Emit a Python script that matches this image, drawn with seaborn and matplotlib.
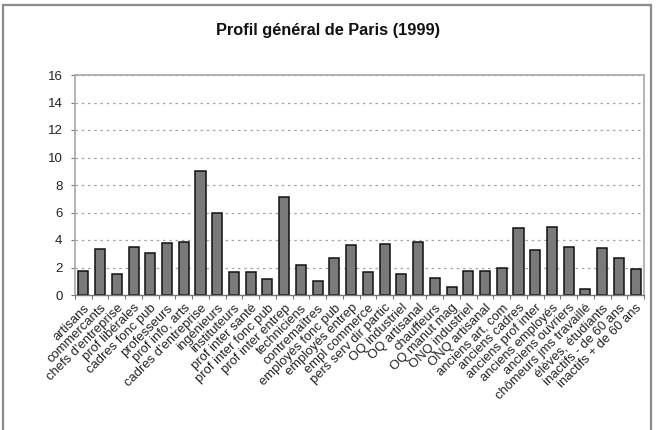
import matplotlib
matplotlib.use("Agg")
import matplotlib.pyplot as plt
from matplotlib.patches import Rectangle
from matplotlib.ticker import FixedLocator
import numpy as np
import pandas as pd
import seaborn as sns

# Catégories socio-professionnelles (Paris, 1999)
categories = [
    "artisans", "commercants", "chefs d'entreprise", "prof libérales",
    "cadres fonc pub", "professeurs", "prof info, arts", "cadres d'entreprise",
    "ingénieurs", "instituteurs", "prof inter santé", "prof inter fonc pub",
    "prof inter entrep", "techniciens", "contremaîtres", "employés fonc pub",
    "employés entrep", "empl commerce", "pers serv dir partic", "OQ industriel",
    "OQ artisanal", "chauffeurs", "OQ manut mag", "ONQ industriel",
    "ONQ artisanal", "anciens art, com", "anciens cadres", "anciens prof inter",
    "anciens employés", "anciens ouvriers", "chômeurs jms travaillé",
    "élèves, étudiants", "inactifs - de 60 ans", "inactifs + de 60 ans",
]
values = [
    1.75, 3.35, 1.5, 3.47, 3.03, 3.76, 3.85, 9.02,
    5.94, 1.67, 1.67, 1.2, 7.1, 2.18, 1.04, 2.69,
    3.66, 1.65, 3.73, 1.53, 3.83, 1.21, 0.56, 1.72,
    1.77, 1.99, 4.9, 3.27, 4.95, 3.47, 0.46, 3.42,
    2.69, 1.87,
]
y_ticks = list(range(0, 17, 2))
title = "Profil général de Paris (1999)"

sns.set_theme(style="white")
plt.rcParams["font.family"] = ["Liberation Sans", "DejaVu Sans"]

W, H = 656, 430
fig = plt.figure(figsize=(W / 100, H / 100), dpi=100)

# Cadre extérieur du graphique
fig.patches.append(Rectangle((3 / W, -0.05), (651 - 3) / W, 1.05 - 5 / H,
                             transform=fig.transFigure, fill=False,
                             edgecolor="#8c8c8c", linewidth=1.6))

ax = fig.add_axes([75 / W, (H - 295) / H, (644 - 75) / W, (295 - 75) / H])

df = pd.DataFrame({"cat": categories, "val": values})
sns.barplot(data=df, x="cat", y="val", color="#7a7a7a", saturation=1,
            edgecolor="#111111", linewidth=1.1, width=0.6, ax=ax)

ax.set_xlim(-0.5, len(categories) - 0.5)
ax.set_ylim(0, 16)
ax.set_yticks(y_ticks)
ax.set_yticklabels([str(t) for t in y_ticks], fontsize=9.5, color="#222222")
ax.set_xlabel("")
ax.set_ylabel("")

ax.set_xticks(range(len(categories)))
ax.set_xticklabels(categories, rotation=45, ha="right",
                   rotation_mode="anchor", fontsize=9.4, color="#222222")
ax.tick_params(axis="x", which="major", length=0, pad=5)
ax.xaxis.set_minor_locator(FixedLocator(np.arange(-0.5, len(categories), 1)))
ax.tick_params(axis="x", which="minor", length=3, color="#777777", width=0.8,
               bottom=True)
ax.tick_params(axis="y", which="major", length=3, color="#777777", width=0.8,
               left=True, pad=6)

ax.yaxis.grid(True, linestyle=(0, (2, 3)), color="#a5a5a5", linewidth=0.9)
ax.set_axisbelow(True)
for side in ["top", "right", "left"]:
    ax.spines[side].set_color("#a8a8a8")
    ax.spines[side].set_linewidth(1.2)
ax.spines["bottom"].set_color("#777777")
ax.spines["bottom"].set_linewidth(1.0)

fig.text(0.5, (H - 30) / H, title, ha="center", va="center",
         fontsize=11.8, fontweight="bold", color="#111111")

fig.savefig("out.png", dpi=100)
